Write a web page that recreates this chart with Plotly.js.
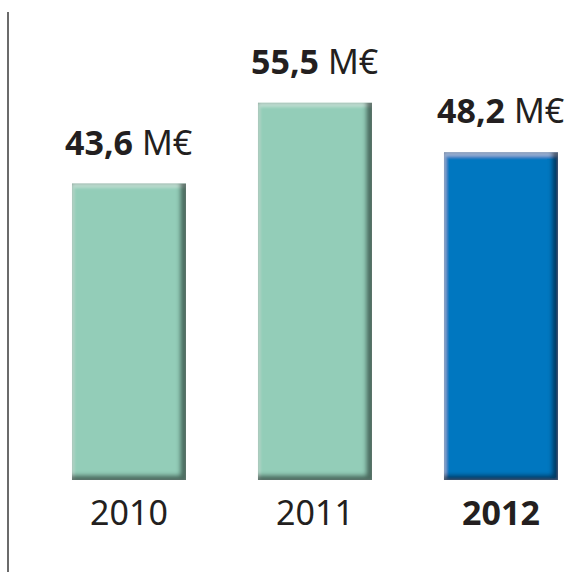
<!DOCTYPE html>
<html>
<head>
<meta charset="utf-8">
<script src="https://cdn.plot.ly/plotly-3.0.1.min.js"></script>
<style>
html,body{margin:0;padding:0;background:#fff;}
#chart{width:567px;height:575px;}
</style>
</head>
<body>
<div id="chart"></div>
<script>
const years = ['2010', '2011', '2012'];
const yearLabels = ['2010', '2011', '<b>2012</b>'];
const values = [43.6, 55.5, 48.2];
const valueLabels = ['43,6', '55,5', '48,2'];
const unit = 'M€';
const barColors = ['#93CDB8', '#93CDB8', '#0077C0'];

const FONT = 'Noto Sans, Open Sans, sans-serif';
const TEXT = '#231F20';

const trace = {
  type: 'bar',
  x: years,
  y: values,
  width: 0.613,
  marker: {color: barColors, line: {width: 0}},
  hoverinfo: 'skip'
};

const annotations = years.map((yr, i) => ({
  x: i, y: values[i], xref: 'x', yref: 'y',
  text: '<b>' + valueLabels[i] + '</b> ' + unit,
  showarrow: false, yanchor: 'bottom', yshift: 17,
  font: {family: FONT, size: 34, color: TEXT}
}));

const layout = {
  width: 567, height: 575,
  margin: {l: 8, r: 0, t: 0, b: 95},
  paper_bgcolor: '#fff', plot_bgcolor: '#fff',
  showlegend: false,
  xaxis: {
    type: 'category',
    range: [-0.6505, 2.355],
    tickvals: years, ticktext: yearLabels,
    ticks: 'outside', ticklen: 3, tickcolor: 'rgba(0,0,0,0)',
    tickfont: {family: FONT, size: 34, color: TEXT},
    showline: false, showgrid: false, zeroline: false
  },
  yaxis: {
    range: [0, 70.6],
    showticklabels: false, showgrid: false, zeroline: false, showline: false, ticks: ''
  },
  shapes: [{
    type: 'line', xref: 'paper', yref: 'paper',
    x0: 0, x1: 0, y0: -0.1917, y1: 0.975,
    line: {color: '#3a3a3a', width: 1.5}
  }],
  annotations: annotations
};

function addBevel(gd) {
  const svg = gd.querySelector('svg.main-svg');
  const NS = 'http://www.w3.org/2000/svg';
  let defs = svg.querySelector('defs');
  if (!defs) { defs = document.createElementNS(NS, 'defs'); svg.insertBefore(defs, svg.firstChild); }
  const f = document.createElementNS(NS, 'filter');
  f.setAttribute('id', 'barBevel');
  f.setAttribute('x', '0'); f.setAttribute('y', '0');
  f.setAttribute('width', '1'); f.setAttribute('height', '1');
  f.innerHTML =
    '<feOffset in="SourceAlpha" dx="-6" dy="-5" result="offD"/>' +
    '<feGaussianBlur in="offD" stdDeviation="2.2" result="blurD"/>' +
    '<feComposite in="SourceAlpha" in2="blurD" operator="out" result="edgeD"/>' +
    '<feFlood flood-color="#000" flood-opacity="0.75" result="dark"/>' +
    '<feComposite in="dark" in2="edgeD" operator="in" result="shadow"/>' +
    '<feOffset in="SourceAlpha" dx="2" dy="4" result="offL"/>' +
    '<feGaussianBlur in="offL" stdDeviation="1.5" result="blurL"/>' +
    '<feComposite in="SourceAlpha" in2="blurL" operator="out" result="edgeL"/>' +
    '<feFlood flood-color="#fff" flood-opacity="0.35" result="light"/>' +
    '<feComposite in="light" in2="edgeL" operator="in" result="hl"/>' +
    '<feMerge><feMergeNode in="SourceGraphic"/><feMergeNode in="hl"/><feMergeNode in="shadow"/></feMerge>';
  defs.appendChild(f);
  gd.querySelectorAll('.bars .point path').forEach(p => p.setAttribute('filter', 'url(#barBevel)'));
}

Plotly.newPlot('chart', [trace], layout, {displayModeBar: false, staticPlot: true})
  .then(addBevel);
</script>
</body>
</html>
